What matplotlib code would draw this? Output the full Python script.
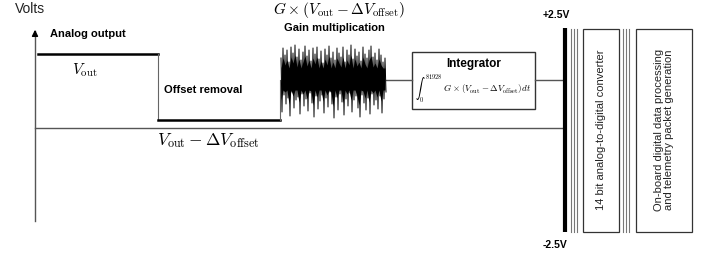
import matplotlib
matplotlib.use("Agg")
import matplotlib.pyplot as plt
from matplotlib.patches import Rectangle

plt.rcParams['font.family'] = ['Liberation Sans', 'DejaVu Sans']
plt.rcParams['mathtext.fontset'] = 'cm'

# ---- schematic data (pixel-space diagram) ----
stage_x = [38, 158, 280, 386]          # stage boundaries along the time axis
signal_levels = [54, 120]              # analog output level, offset-removed level
baseline_y = 128
integrator_y = 80
noise_x_start, noise_step = 281, 2
noise_top = [58, 48, 55, 50, 62, 47, 53, 45, 57, 49, 60, 52, 46, 56, 50, 61, 48, 54,
             47, 59, 51, 63, 49, 55, 46, 58, 52, 60, 48, 53, 57, 47, 62, 50, 55, 45,
             59, 49, 56, 52, 61, 47, 54, 58, 50, 46, 57, 53, 60, 49, 55, 62, 58]
noise_bottom = [112, 95, 104, 98, 116, 92, 108, 100, 97, 114, 94, 106, 99, 111, 93,
                103, 117, 96, 109, 101, 95, 113, 98, 107, 92, 104, 118, 97, 110, 94,
                102, 115, 99, 106, 93, 112, 100, 96, 108, 117, 95, 103, 110, 98, 114,
                94, 105, 100, 109, 96, 113, 99, 92]
rail_labels = ["+2.5V", "-2.5V"]
stage_labels = ["Analog output", "Offset removal", "Gain multiplication", "Integrator"]
block_labels = ["14 bit analog-to-digital converter",
                "On-board digital data processing\nand telemetry packet generation"]

fig = plt.figure(figsize=(7.16, 2.56), dpi=100)
ax = fig.add_axes([0, 0, 1, 1])
ax.set_xlim(0, 716)
ax.set_ylim(256, 0)
ax.axis('off')

# Volts axis
ax.plot([35, 35], [31, 221], color='#555555', lw=1.0)
ax.annotate('', xy=(35, 27), xytext=(35, 36),
            arrowprops=dict(arrowstyle='-|>', color='black', lw=1.0,
                            mutation_scale=9))
ax.text(15, 9, "Volts", fontsize=10, ha='left', va='center', color='#222222')

# baseline and integrator link line
ax.plot([35, 565], [baseline_y, baseline_y], color='#555555', lw=1.0)
ax.plot([stage_x[3], 412], [integrator_y, integrator_y], color='#555555', lw=1.0)
ax.plot([535, 565], [integrator_y, integrator_y], color='#555555', lw=1.0)

# signal levels
ax.plot([stage_x[0], stage_x[1]], [signal_levels[0]] * 2, color='black', lw=1.8)
ax.plot([stage_x[1], stage_x[1]], [signal_levels[0], signal_levels[1]],
        color='#666666', lw=0.8)
ax.plot([stage_x[1], stage_x[2]], [signal_levels[1]] * 2, color='black', lw=1.8)
ax.plot([stage_x[2], stage_x[2]], [signal_levels[1], 80], color='#666666', lw=0.8)

# amplified noise: zig-zag between the read top/bottom extremes
zx, zy = [], []
for i, (t, b) in enumerate(zip(noise_top, noise_bottom)):
    x0 = noise_x_start + i * noise_step
    zx += [x0, x0 + noise_step / 2]
    zy += [t, b]
ax.plot(zx, zy, color='black', lw=0.7)
# dense core of the noise band
core_top = [min(t + 10, 68) for t in noise_top]
core_bot = [max(b - 12, 90) for b in noise_bottom]
nx = [noise_x_start + i * noise_step for i in range(len(noise_top))]
ax.fill_between(nx, core_top, core_bot, color='black', lw=0)

# labels
ax.text(50, 34, stage_labels[0], fontsize=8, fontweight='bold', ha='left', va='center')
ax.text(72, 70, r"$V_{\rm out}$", fontsize=11, ha='left', va='center')
ax.text(164, 90, stage_labels[1], fontsize=8, fontweight='bold', ha='left', va='center')
ax.text(157, 141, r"$V_{\rm out} - \Delta V_{\rm offset}$", fontsize=12.5,
        ha='left', va='center')
ax.text(273, 10, r"$G \times (V_{\rm out} - \Delta V_{\rm offset})$", fontsize=11,
        ha='left', va='center')
ax.text(334, 28, stage_labels[2], fontsize=8, fontweight='bold', ha='center', va='center')

# integrator box
ax.add_patch(Rectangle((412, 52), 123, 57, fill=False, edgecolor='#333333', lw=1.0))
ax.text(474, 64, stage_labels[3], fontsize=8.5, fontweight='bold', ha='center', va='center')
ax.text(415, 89,
        r"$\int_0^{81928}\ G \times (V_{\rm out} - \Delta V_{\rm offset}) dt$",
        fontsize=6.5, ha='left', va='center')

# rails
ax.plot([565, 565], [28, 232], color='black', lw=3.0, solid_capstyle='butt')
for xx in [571, 574, 577, 623, 626, 629]:
    ax.plot([xx, xx], [29, 232], color='#777777', lw=0.8)
ax.text(543, 15, rail_labels[0], fontsize=7.5, fontweight='bold', ha='left', va='center')
ax.text(543, 245, rail_labels[1], fontsize=7.5, fontweight='bold', ha='left', va='center')

# digital blocks
ax.add_patch(Rectangle((583, 29), 36, 203, fill=False, edgecolor='#333333', lw=0.9))
ax.add_patch(Rectangle((636, 29), 56, 203, fill=False, edgecolor='#333333', lw=0.9))
ax.text(601, 130, block_labels[0], fontsize=8, rotation=90, ha='center', va='center',
        color='#222222')
ax.text(664, 130, block_labels[1], fontsize=8, rotation=90, ha='center', va='center',
        color='#222222', linespacing=1.0)

fig.savefig("out.png", dpi=100)
